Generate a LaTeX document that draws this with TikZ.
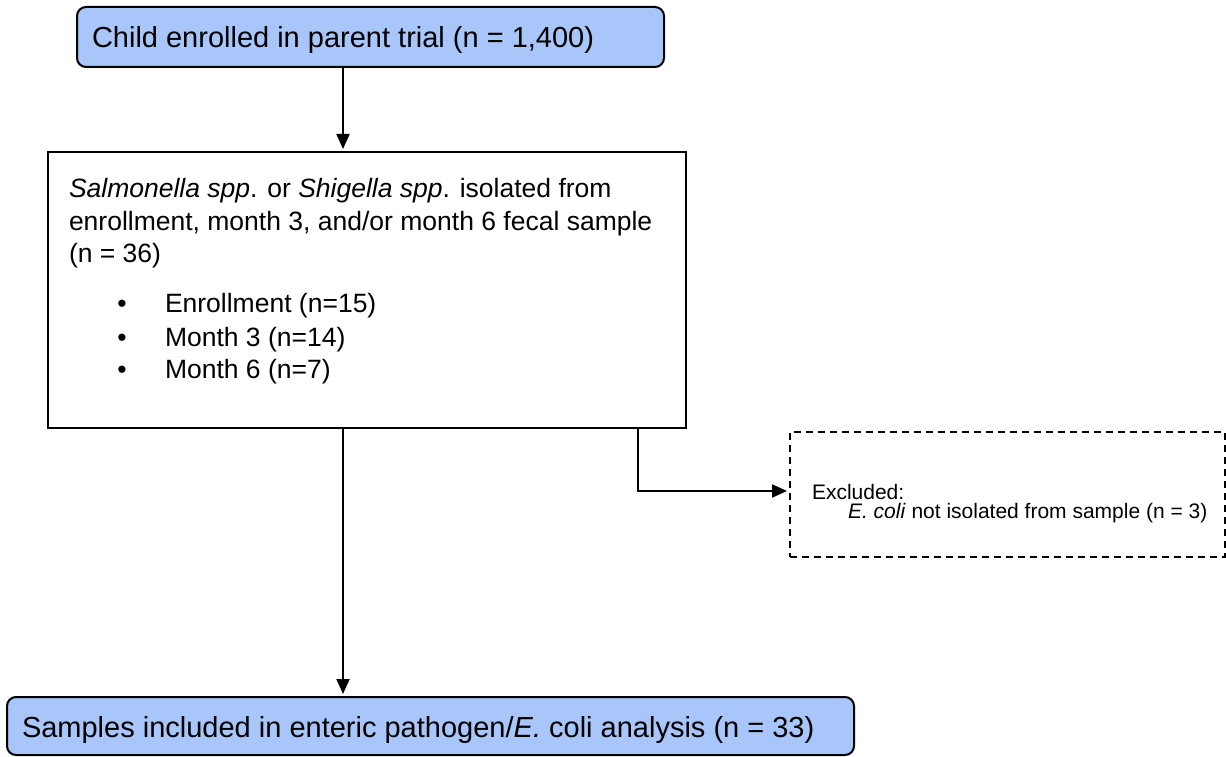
\documentclass[tikz,border=0pt]{standalone}
\usepackage{fontspec}
\setmainfont{Liberation Sans}
\usetikzlibrary{arrows.meta}
\definecolor{boxblue}{RGB}{168,198,250}
\begin{document}
\begin{tikzpicture}[x=1pt,y=-1pt,
  frame/.style={draw=black, line width=2pt, inner sep=0pt, outer sep=0pt, anchor=north west},
  roundbox/.style={frame, fill=boxblue, rounded corners=9pt},
  dashbox/.style={frame, line width=1.8pt, dash pattern=on 7pt off 5pt},
  txt/.style={inner sep=0pt, outer sep=0pt, anchor=base west},
  flow/.style={draw=black, line width=2pt, shorten >=3pt,
    -{Triangle[length=15pt,width=13pt]}},
  bigtext/.style={font=\fontsize{29}{33}\selectfont},
  midtext/.style={font=\fontsize{26.5}{32.5}\selectfont},
  smalltext/.style={font=\fontsize{21}{24}\selectfont}]
\useasboundingbox (0,0) rectangle (1226,757);

% boxes
\node[roundbox, minimum width=587pt, minimum height=60pt] (top) at (77,7) {};
\node[frame, minimum width=638pt, minimum height=276pt] (mid) at (48,152) {};
\node[dashbox, minimum width=435pt, minimum height=125pt] (excl) at (790,432) {};
\node[roundbox, minimum width=847pt, minimum height=58pt] (bot) at (7,697) {};

% texts
\node[txt, bigtext] (toptext) at (92,48) {Child enrolled in parent trial (n = 1,400)};

\node[txt, midtext] (m1) at (69,197) {\textit{Salmonella spp}. or \textit{Shigella spp}. isolated from};
\node[txt, midtext] (m2) at (69,230) {enrollment, month 3, and/or month 6 fecal sample};
\node[txt, midtext] (m3) at (69,262) {(n = 36)};
\foreach \y/\t/\n in {312/Enrollment (n=15)/b1, 346/Month 3 (n=14)/b2, 378/Month 6 (n=7)/b3}{
  \node[inner sep=0pt, anchor=base, midtext] (\n dot) at (122,\y) {•};
  \node[txt, midtext] (\n) at (165,\y) {\t};
}

\node[txt, smalltext] (e1) at (812,499) {Excluded:};
\node[txt, smalltext] (e2) at (848,518) {\textit{E. coli} not isolated from sample (n = 3)};

\node[txt, bigtext] (bottext) at (22,737) {Samples included in enteric pathogen/\textit{E.} coli analysis (n = 33)};

% connectors
\coordinate (ax) at (343,0);
\coordinate (bx) at (638,0);
\draw[flow] (top.south -| ax) -- (mid.north -| ax);
\draw[flow] (mid.south -| ax) -- (bot.north -| ax);
\draw[flow] (mid.south -| bx) |- ([yshift=3.5pt]excl.west);
\end{tikzpicture}
\end{document}
